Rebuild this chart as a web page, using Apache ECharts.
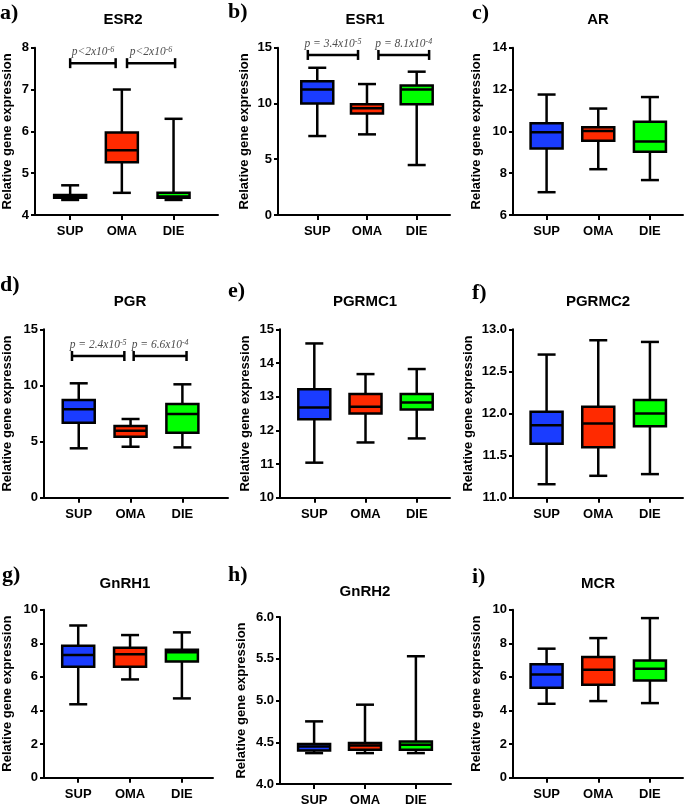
<!DOCTYPE html>
<html>
<head>
<meta charset="utf-8">
<title>Relative gene expression</title>
<script src="https://cdn.jsdelivr.net/npm/echarts@6/dist/echarts.min.js"></script>
<style>
html, body { margin: 0; padding: 0; background: #fff; }
#chart { width: 685px; height: 807px; }
</style>
</head>
<body>
<div id="chart"></div>
<script>
var groups = ['SUP', 'OMA', 'DIE'];
var groupColors = ['#1a3cff', '#ff2a00', '#00ff00'];
var genes = ['ESR2', 'ESR1', 'AR', 'PGR', 'PGRMC1', 'PGRMC2', 'GnRH1', 'GnRH2', 'MCR'];
var panelLetters = ['a)', 'b)', 'c)', 'd)', 'e)', 'f)', 'g)', 'h)', 'i)'];

// box values per group: [min, Q1, median, Q3, max] for SUP, OMA, DIE
var esr2 = [[4.36, 4.41, 4.45, 4.48, 4.71], [4.53, 5.26, 5.55, 5.97, 7.0], [4.36, 4.41, 4.44, 4.53, 6.3]];
var esr1 = [[7.08, 10.0, 11.26, 12.0, 13.2], [7.23, 9.11, 9.56, 9.92, 11.74], [4.48, 9.92, 11.26, 11.6, 12.85]];
var ar = [[7.09, 9.18, 9.96, 10.39, 11.76], [8.19, 9.55, 10.02, 10.2, 11.09], [7.67, 9.02, 9.51, 10.46, 11.64]];
var pgr = [[4.4, 6.68, 7.87, 8.7, 10.19], [4.54, 5.44, 5.97, 6.39, 7.01], [4.48, 5.79, 7.45, 8.35, 10.1]];
var pgrmc1 = [[11.04, 12.33, 12.68, 13.22, 14.58], [11.64, 12.5, 12.7, 13.08, 13.67], [11.76, 12.62, 12.83, 13.08, 13.82]];
var pgrmc2 = [[11.16, 11.64, 11.86, 12.02, 12.7], [11.26, 11.6, 11.88, 12.08, 12.87], [11.28, 11.85, 12.0, 12.16, 12.85]];
var gnrh1 = [[4.37, 6.6, 7.31, 7.85, 9.06], [5.85, 6.6, 7.35, 7.73, 8.49], [4.72, 6.91, 7.47, 7.61, 8.65]];
var gnrh2 = [[4.37, 4.4, 4.45, 4.48, 4.75], [4.37, 4.41, 4.46, 4.49, 4.95], [4.37, 4.41, 4.47, 4.51, 5.53]];
var mcr = [[4.4, 5.36, 6.15, 6.75, 7.68], [4.56, 5.54, 6.43, 7.18, 8.31], [4.44, 5.79, 6.49, 6.98, 9.5]];
var panelData = [esr2, esr1, ar, pgr, pgrmc1, pgrmc2, gnrh1, gnrh2, mcr];

// y axis ticks: min, max, step, decimals
var yMin = [4, 0, 6, 0, 10, 11, 0, 4, 0];
var yMax = [8, 15, 14, 15, 15, 13, 10, 6, 10];
var yStep = [1, 5, 2, 5, 1, 0.5, 2, 0.5, 2];
var yDecimals = [0, 0, 0, 0, 0, 1, 0, 1, 0];

// significance brackets: [from group, to group, y value, text, exponent]
var sigEsr2 = [[0, 0.88, 7.63, 'p<2x10', '-6'], [1.1, 2.03, 7.63, 'p<2x10', '-6']];
var sigEsr1 = [[-0.19, 0.82, 14.35, 'p = 3.4x10', '-5'], [1.23, 2.25, 14.35, 'p = 8.1x10', '-4']];
var sigPgr = [[-0.13, 0.88, 12.62, 'p = 2.4x10', '-5'], [1.06, 2.08, 12.62, 'p = 6.6x10', '-4']];
var sigPanels = [[0, sigEsr2], [1, sigEsr1], [3, sigPgr]];

// layout of the nine panels (pixels)
var layout = [
    {left: 35, top: 47.7, width: 183, height: 167.3, xMin: -0.68, xMax: 2.86, nameGap: 21, lx: 0, ly: 2, tx: 123, ty: 12},
    {left: 278, top: 47.7, width: 172, height: 167.3, xMin: -0.79, xMax: 2.67, nameGap: 27, lx: 228, ly: 1, tx: 365, ty: 12},
    {left: 513, top: 47.7, width: 170, height: 167.3, xMin: -0.65, xMax: 2.64, nameGap: 30, lx: 472, ly: 2, tx: 598, ty: 12},
    {left: 43, top: 329.3, width: 185, height: 168.4, xMin: -0.67, xMax: 2.88, nameGap: 30, lx: 0, ly: 274, tx: 130, ty: 294},
    {left: 280, top: 329.3, width: 170, height: 168.4, xMin: -0.67, xMax: 2.65, nameGap: 28.5, lx: 228, ly: 280, tx: 365, ty: 294},
    {left: 513, top: 329.3, width: 170, height: 168.4, xMin: -0.65, xMax: 2.64, nameGap: 38.5, lx: 472, ly: 282, tx: 598, ty: 294},
    {left: 43, top: 609.7, width: 170, height: 168, xMin: -0.66, xMax: 2.6, nameGap: 30, lx: 2, ly: 564, tx: 125, ty: 576},
    {left: 280, top: 617, width: 171, height: 168.3, xMin: -0.67, xMax: 2.69, nameGap: 32, lx: 228, ly: 564, tx: 365, ty: 584},
    {left: 513, top: 609.7, width: 170, height: 168, xMin: -0.65, xMax: 2.64, nameGap: 30, lx: 472, ly: 566, tx: 598, ty: 576}
];

var sans = '"Liberation Sans", Arial, sans-serif';
var serif = '"Liberation Serif", "Times New Roman", serif';

function ln(x1, y1, x2, y2) {
    return {type: 'line', shape: {x1: x1, y1: y1, x2: x2, y2: y2}, style: {stroke: '#000', lineWidth: 2.5}};
}

//箱线图
function renderBox(params, api) {
    var x = api.value(0);
    var lo = api.coord([x, api.value(1)]);
    var q1 = api.coord([x, api.value(2)]);
    var med = api.coord([x, api.value(3)]);
    var q3 = api.coord([x, api.value(4)]);
    var hi = api.coord([x, api.value(5)]);
    var cx = lo[0];
    return {
        type: 'group',
        children: [
            ln(cx, hi[1], cx, q3[1]),
            ln(cx, q1[1], cx, lo[1]),
            ln(cx - 9, hi[1], cx + 9, hi[1]),
            ln(cx - 9, lo[1], cx + 9, lo[1]),
            {
                type: 'rect',
                shape: {x: cx - 16, y: q3[1], width: 32, height: q1[1] - q3[1]},
                style: {fill: groupColors[x], stroke: '#000', lineWidth: 2.5}
            },
            ln(cx - 16, med[1], cx + 16, med[1])
        ]
    };
}

//显著性标注
function makeSigRenderer(list) {
    return function (params, api) {
        var item = list[params.dataIndex];
        var a = api.coord([api.value(0), api.value(2)]);
        var b = api.coord([api.value(1), api.value(2)]);
        return {
            type: 'group',
            children: [
                ln(a[0], a[1], b[0], b[1]),
                ln(a[0], a[1] - 5, a[0], a[1] + 5),
                ln(b[0], b[1] - 5, b[0], b[1] + 5),
                {
                    type: 'text',
                    x: (a[0] + b[0]) / 2,
                    y: a[1] - 5,
                    style: {
                        text: '{n|' + item[3] + '}{s|' + item[4] + '}',
                        align: 'center',
                        verticalAlign: 'bottom',
                        rich: {
                            n: {fontSize: 11.5, fontStyle: 'italic', fontFamily: serif, fill: '#4d4d4d', verticalAlign: 'bottom'},
                            s: {fontSize: 8, fontStyle: 'italic', fontFamily: serif, fill: '#4d4d4d', verticalAlign: 'top'}
                        }
                    }
                }
            ]
        };
    };
}

var grids = [], xAxes = [], yAxes = [], series = [], titles = [];
layout.forEach(function (p, i) {
    grids.push({left: p.left, top: p.top, width: p.width, height: p.height, containLabel: false});
    xAxes.push({
        type: 'value',
        gridIndex: i,
        min: p.xMin,
        max: p.xMax,
        splitLine: {show: false},
        axisLine: {show: true, onZero: false, lineStyle: {color: '#000', width: 2}},
        axisTick: {show: true, customValues: [0, 1, 2], length: 5, lineStyle: {color: '#000', width: 2}},
        axisLabel: {
            customValues: [0, 1, 2],
            formatter: function (v) { return groups[Math.round(v)]; },
            color: '#000', fontWeight: 'bold', fontSize: 13, fontFamily: sans, margin: 10
        }
    });
    yAxes.push({
        type: 'value',
        gridIndex: i,
        min: yMin[i],
        max: yMax[i],
        interval: yStep[i],
        splitLine: {show: false},
        axisLine: {show: true, onZero: false, lineStyle: {color: '#000', width: 2}},
        axisTick: {show: true, length: 4, lineStyle: {color: '#000', width: 2}},
        axisLabel: {
            color: '#000', fontWeight: 'bold', fontSize: 13, fontFamily: sans, margin: 6,
            formatter: (function (d) { return function (v) { return v.toFixed(d); }; })(yDecimals[i])
        },
        name: 'Relative gene expression',
        nameLocation: 'middle',
        nameGap: p.nameGap,
        nameTextStyle: {color: '#000', fontWeight: 'bold', fontSize: 13, fontFamily: sans}
    });
    series.push({
        type: 'custom',
        xAxisIndex: i,
        yAxisIndex: i,
        clip: false,
        silent: true,
        renderItem: renderBox,
        encode: {x: 0, y: [1, 2, 3, 4, 5]},
        data: panelData[i].map(function (b, g) { return [g].concat(b); })
    });
    titles.push({
        text: panelLetters[i], left: p.lx, top: p.ly, padding: 0,
        textStyle: {fontFamily: serif, fontWeight: 'bold', fontSize: 22, color: '#000'}
    });
    titles.push({
        text: genes[i], left: p.tx, top: p.ty, padding: 0, textAlign: 'center',
        textStyle: {fontFamily: sans, fontWeight: 'bold', fontSize: 15, color: '#000'}
    });
});

sigPanels.forEach(function (sp) {
    var list = sp[1];
    series.push({
        type: 'custom',
        xAxisIndex: sp[0],
        yAxisIndex: sp[0],
        clip: false,
        silent: true,
        renderItem: makeSigRenderer(list),
        encode: {x: [0, 1], y: 2},
        data: list.map(function (s) { return [s[0], s[1], s[2]]; })
    });
});

var chart = echarts.init(document.getElementById('chart'), null, {renderer: 'canvas'});
chart.setOption({
    backgroundColor: '#fff',
    animation: false,
    title: titles,
    grid: grids,
    xAxis: xAxes,
    yAxis: yAxes,
    series: series
});
</script>
</body>
</html>
